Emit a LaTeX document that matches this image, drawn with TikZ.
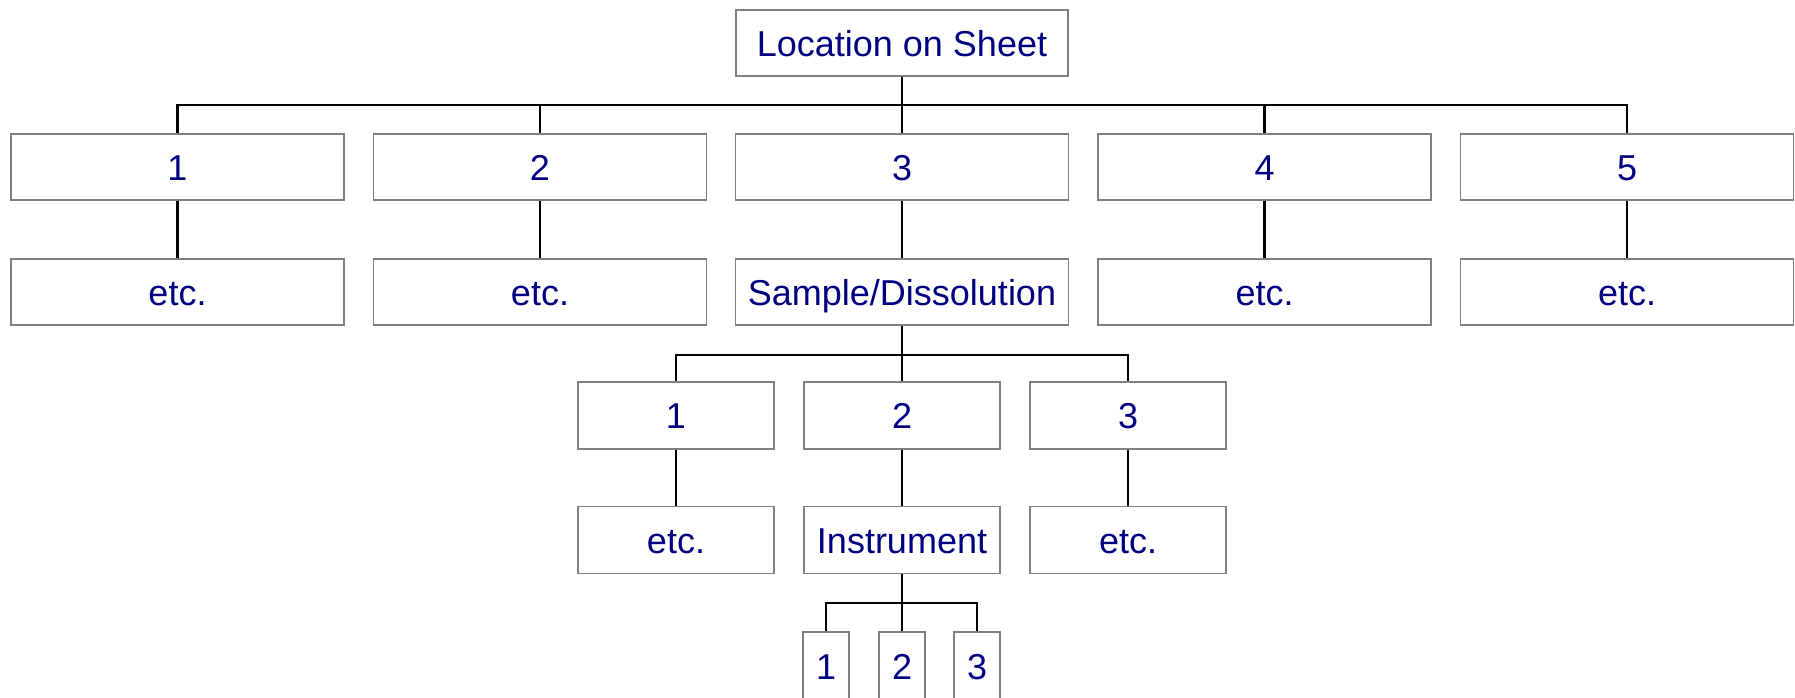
\documentclass[tikz,border=0pt]{standalone}
\usepackage{fontspec}
\setmainfont{Liberation Sans}
\definecolor{txtblue}{RGB}{0,0,128}
\definecolor{boxgray}{RGB}{128,128,128}
\begin{document}
\begin{tikzpicture}[x=1pt,y=-1pt,
  box/.style={draw=boxgray,line width=1.3pt,inner sep=0pt,text=txtblue,
    font=\fontsize{36}{43}\selectfont,text height=26pt,text depth=0pt,align=center},
  wide/.style={box,minimum width=333pt,minimum height=66pt},
  mid/.style={box,minimum width=196pt,minimum height=67pt},
  small/.style={box,minimum width=46pt,minimum height=68pt},
  conn/.style={draw=black,line width=2.6pt}]
\useasboundingbox (0,0) rectangle (1795,697);
\begin{scope}
\clip (0,0) rectangle (1795,697);
% top
\node[wide,minimum width=332pt] (top) at (902,43) {Location on Sheet};
% row 1
\node[wide] (a1) at (177.5,167) {1};
\node[wide] (a2) at (540,167) {2};
\node[wide] (a3) at (902,167) {3};
\node[wide] (a4) at (1264.5,167) {4};
\node[wide] (a5) at (1627,167) {5};
% row 2
\node[wide] (b1) at (177.5,292) {etc.};
\node[wide] (b2) at (540,292) {etc.};
\node[wide] (b3) at (902,292) {Sample/Dissolution};
\node[wide] (b4) at (1264.5,292) {etc.};
\node[wide] (b5) at (1627,292) {etc.};
% row 3
\node[mid] (c1) at (676,415.5) {1};
\node[mid] (c2) at (902,415.5) {2};
\node[mid] (c3) at (1128,415.5) {3};
% row 4
\node[mid] (d1) at (676,540) {etc.};
\node[mid] (d2) at (902,540) {Instrument};
\node[mid] (d3) at (1128,540) {etc.};
% row 5
\node[small] (e1) at (826,666) {1};
\node[small] (e2) at (902,666) {2};
\node[small] (e3) at (977,666) {3};
% bus coordinates
\coordinate (bus1) at (902,105);
\coordinate (bus2) at (902,355);
\coordinate (bus3) at (902,603);
% connectors level 1
\draw[conn] (top.south) -- (bus1);
\draw[conn] (a1.north) |- (bus1) -| (a5.north);
\draw[conn] (a2.north) -- (a2.north |- bus1);
\draw[conn] (a3.north) -- (a3.north |- bus1);
\draw[conn] (a4.north) -- (a4.north |- bus1);
% row1 to row2
\draw[conn] (a1.south) -- (b1.north);
\draw[conn] (a2.south) -- (b2.north);
\draw[conn] (a3.south) -- (b3.north);
\draw[conn] (a4.south) -- (b4.north);
\draw[conn] (a5.south) -- (b5.north);
% level 2
\draw[conn] (b3.south) -- (bus2);
\draw[conn] (c1.north) |- (bus2) -| (c3.north);
\draw[conn] (c2.north) -- (c2.north |- bus2);
\draw[conn] (c1.south) -- (d1.north);
\draw[conn] (c2.south) -- (d2.north);
\draw[conn] (c3.south) -- (d3.north);
% level 3
\draw[conn] (d2.south) -- (bus3);
\draw[conn] (e1.north) |- (bus3) -| (e3.north);
\draw[conn] (e2.north) -- (e2.north |- bus3);
\end{scope}
\end{tikzpicture}
\end{document}
